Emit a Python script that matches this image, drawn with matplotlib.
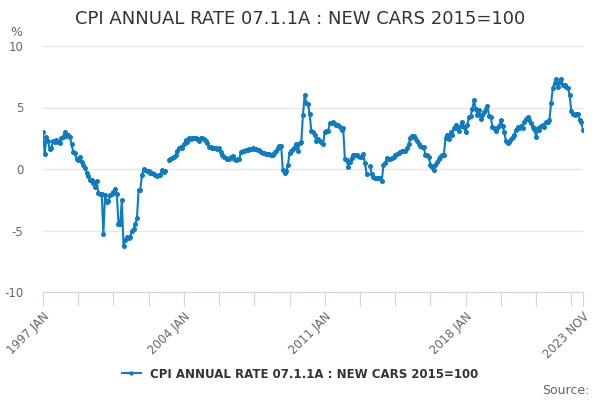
import numpy as np
import matplotlib
matplotlib.use("Agg")
import matplotlib.pyplot as plt

#monthly annual rate values, 1997 JAN to 2023 NOV (nan = missing month)
y1997 = [3.0, 1.2, 2.6, 2.3, 1.6, 1.7, 2.3, 2.2, 2.35, 2.2, 2.1, 2.5]
y1998 = [2.6, 3.0, 2.7, 2.8, 2.6, 2.0, 1.4, 1.3, 0.8, 0.7, 1.0, 0.6]
y1999 = [0.3, 0.1, -0.3, -0.6, -0.9, -0.9, -1.15, -1.45, -1.0, -1.95, -2.0, -2.05]
y2000 = [-5.3, -2.1, -2.7, -2.6, -2.1, -2.0, -1.85, -1.65, -2.0, -4.5, -4.5, -2.5]
y2001 = [-6.3, -5.8, -5.5, -5.6, -5.5, -5.0, -4.9, -4.5, -4.0, -1.7, -1.7, -0.5]
y2002 = [0.0, -0.1, -0.15, -0.2, -0.3, -0.3, -0.4, -0.45, -0.55, -0.5, -0.45, -0.1]
y2003 = [-0.25, -0.2, np.nan, 0.75, 0.8, 0.9, 1.0, 1.1, 1.5, 1.7, 1.8, 1.7]
y2004 = [2.0, 2.35, 2.2, 2.5, 2.45, 2.5, 2.5, 2.55, 2.45, 2.3, 2.5, 2.55]
y2005 = [2.4, 2.3, 2.1, 1.8, 1.75, 1.7, 1.7, 1.7, 1.65, 1.7, 1.4, 1.1]
y2006 = [1.0, 0.9, 0.85, 0.85, 1.0, 1.05, 0.85, 0.75, 0.8, 0.8, 1.4, 1.45]
y2007 = [1.5, 1.55, 1.55, 1.6, 1.6, 1.7, 1.65, 1.6, 1.55, 1.55, 1.4, 1.3]
y2008 = [1.3, 1.25, 1.2, 1.2, 1.15, 1.1, 1.3, 1.5, 1.7, 1.9, 1.9, -0.1]
y2009 = [-0.3, -0.2, 0.3, 1.3, 1.5, 1.6, 1.8, 2.0, 1.5, 2.1, 2.2, 4.4]
y2010 = [6.0, 5.4, 5.3, 4.45, 3.1, 3.0, 2.8, 2.3, 2.4, 2.3, 2.2, 2.0]
y2011 = [3.0, 3.05, 3.1, 3.7, 3.75, 3.8, 3.65, 3.6, 3.55, 3.4, 3.2, 3.3]
y2012 = [0.8, 0.7, 0.2, 0.6, 0.9, 1.15, 1.1, 1.1, 1.05, 1.0, 0.95, 1.2]
y2013 = [0.45, -0.4, np.nan, 0.25, -0.4, -0.65, -0.7, -0.75, -0.75, -0.75, -0.95, 0.3]
y2014 = [0.45, 0.9, 0.85, 0.85, 0.9, 1.0, 1.1, 1.25, 1.3, 1.4, 1.45, 1.45]
y2015 = [1.5, 1.7, 2.0, 2.5, 2.7, 2.65, 2.55, 2.3, 2.05, 1.85, 1.8, 1.75]
y2016 = [1.15, 1.15, 1.0, 0.35, 0.2, -0.05, 0.35, 0.6, 0.8, 1.0, 1.1, 1.15]
y2017 = [2.5, 2.75, 2.4, 3.0, 2.8, 3.3, 3.6, 3.3, 3.1, 3.5, 3.85, 3.4]
y2018 = [3.0, 3.6, 4.2, 4.3, 4.9, 5.6, 4.9, 4.4, 4.8, 4.1, 4.4, 4.6]
y2019 = [4.9, 5.1, 4.3, 4.2, 3.4, 3.3, 3.1, 3.3, 3.5, 4.0, 3.5, 3.0]
y2020 = [2.3, 2.15, 2.2, 2.4, 2.6, 2.8, 3.2, 3.4, 3.3, 3.5, 3.3, 3.85]
y2021 = [4.1, 4.2, 4.0, 3.7, 3.4, 3.25, 2.6, 3.3, 3.2, 3.5, 3.6, 3.4]
y2022 = [3.8, 3.85, 4.0, 5.4, 6.6, 7.0, 7.3, 6.7, 7.1, 7.35, 6.8, 6.8]
y2023 = [6.7, 6.6, 6.0, 4.7, 4.45, 4.4, 4.45, 4.5, 4.0, 3.8, 3.2]

tick_labels = ['1997 JAN', '2004 JAN', '2011 JAN', '2018 JAN', '2023 NOV']
series_name = 'CPI ANNUAL RATE 07.1.1A : NEW CARS 2015=100'


def main():
    values = (y1997 + y1998 + y1999 + y2000 + y2001 + y2002 + y2003 + y2004 + y2005
              + y2006 + y2007 + y2008 + y2009 + y2010 + y2011 + y2012 + y2013 + y2014
              + y2015 + y2016 + y2017 + y2018 + y2019 + y2020 + y2021 + y2022 + y2023)
    x = np.arange(len(values))
    last = len(values) - 1

    plt.rcParams['axes.unicode_minus'] = False  #plain hyphen like the original
    fig = plt.figure(figsize=(6, 4), dpi=100)
    ax = fig.add_axes([0.0717, 0.27, 0.9, 0.615])

    line_color = '#0f7cc2'
    ax.plot(x, values, color=line_color, linewidth=1.5, marker='o', markersize=2.6,
            label=series_name)

    #axes styling
    ax.set_xlim(0, last)
    ax.set_ylim(-10, 10)
    ax.set_yticks([-10, -5, 0, 5, 10])
    ax.tick_params(axis='y', length=0, labelsize=8.5, labelcolor='#666666', pad=14)
    ax.grid(axis='y', color='#e6e6e6', linewidth=1)
    ax.set_axisbelow(True)
    for side in ['top', 'right', 'left']:
        ax.spines[side].set_visible(False)
    ax.spines['bottom'].set_color('#ccd6eb')

    #ticks every 21 months, labels on every 4th one and at the end
    ax.set_xticks(list(range(0, last, 21)) + [last])
    labels = [''] * len(ax.get_xticks())
    labels[0], labels[4], labels[8], labels[12], labels[-1] = tick_labels
    ax.set_xticklabels(labels, rotation=45, ha='right', rotation_mode='anchor')
    ax.tick_params(axis='x', length=10, color='#ccd6eb', labelsize=8.5,
                   labelcolor='#666666', pad=3)

    fig.text(0.5, 0.953, series_name, ha='center', va='center', fontsize=13, color='#333333')
    fig.text(0.017, 0.92, '%', fontsize=9, color='#666666', va='center')
    fig.text(0.983, 0.025, 'Source:', fontsize=9, color='#666666', ha='right', va='center')

    fig.legend(loc='center', bbox_to_anchor=(0.5, 0.065), frameon=False,
               prop={'weight': 'bold', 'size': 8.5}, labelcolor='#333333',
               handlelength=1.6, markerscale=0.8)

    fig.savefig('out.png', dpi=100)


if __name__ == "__main__":
    main()
